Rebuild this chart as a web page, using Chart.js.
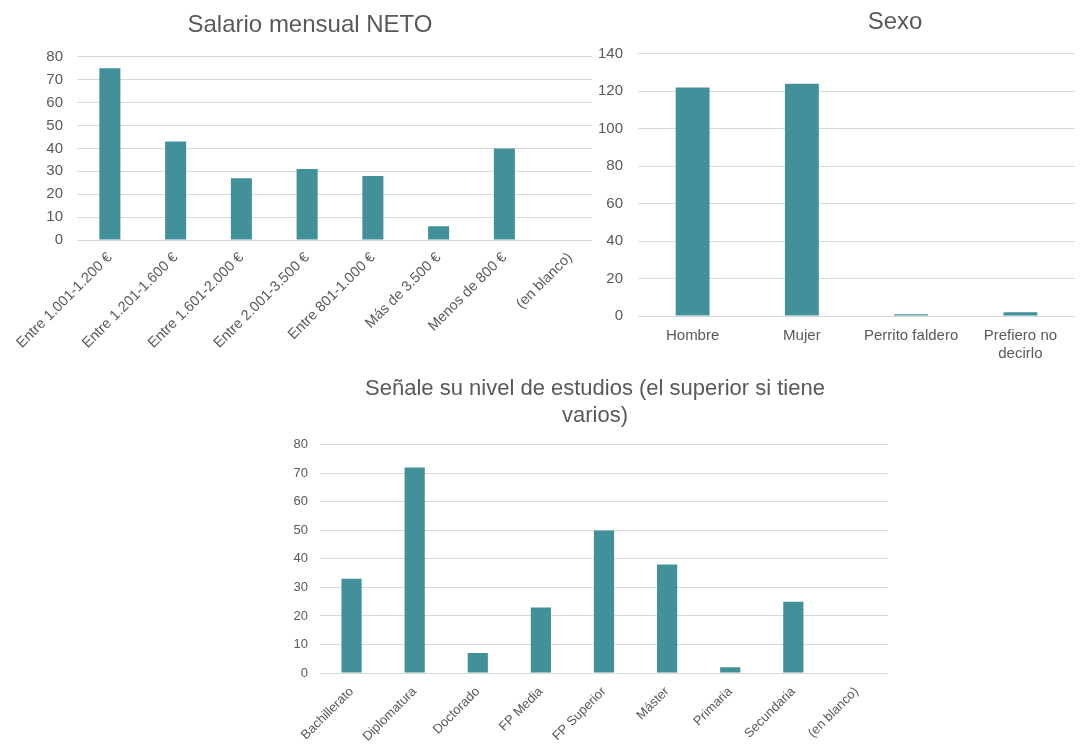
<!DOCTYPE html>
<html>
<head>
<meta charset="utf-8">
<script src="https://cdn.jsdelivr.net/npm/chart.js@4/dist/chart.umd.min.js"></script>
<style>
  html, body { margin:0; padding:0; background:#ffffff; width:1080px; height:744px; overflow:hidden; position:relative; }
  canvas { position:absolute; }
</style>
</head>
<body>
<canvas id="c1" width="620" height="370" style="left:0px;top:0px;"></canvas>
<canvas id="c2" width="606" height="370" style="left:592px;top:0px;"></canvas>
<canvas id="c3" width="650" height="374" style="left:270px;top:370px;"></canvas>
<script>
// ---- Data ----
const salarioTitle = "Salario mensual NETO";
const salarioCategories = ["Entre 1.001-1.200 €", "Entre 1.201-1.600 €", "Entre 1.601-2.000 €", "Entre 2.001-3.500 €", "Entre 801-1.000 €", "Más de 3.500 €", "Menos de 800 €", "(en blanco)"];
const salarioValues = [75, 43, 27, 31, 28, 6, 40, 0];
const salarioTicks = { min: 0, max: 80, step: 10 };

const sexoTitle = "Sexo";
const sexoCategories = ["Hombre", "Mujer", "Perrito faldero", ["Prefiero no", "decirlo"]];
const sexoValues = [122, 124, 1, 2];
const sexoTicks = { min: 0, max: 140, step: 20 };

const estudiosTitle = ["Señale su nivel de estudios (el superior si tiene", "varios)"];
const estudiosCategories = ["Bachillerato", "Diplomatura", "Doctorado", "FP Media", "FP Superior", "Máster", "Primaria", "Secundaria", "(en blanco)"];
const estudiosValues = [33, 72, 7, 23, 50, 38, 2, 25, 0];
const estudiosTicks = { min: 0, max: 80, step: 10 };

// ---- Style ----
const FONT = "'Liberation Sans', Arial, Helvetica, sans-serif";
const TEXT = "#595959";
const GRID = "#d9d9d9";
const BAR = "#42909a";

const whiteBg = {
  id: 'whiteBg',
  beforeDraw(chart) {
    const ctx = chart.ctx;
    ctx.save();
    ctx.fillStyle = '#ffffff';
    ctx.fillRect(0, 0, chart.width, chart.height);
    ctx.restore();
  }
};

function makeChart(id, o) {
  return new Chart(document.getElementById(id), {
    type: 'bar',
    plugins: [whiteBg],
    data: {
      labels: o.labels,
      datasets: [{ data: o.values, backgroundColor: BAR, borderWidth: 0, xAxisID: 'x', yAxisID: 'y',
                   categoryPercentage: 1, barPercentage: o.barPct }]
    },
    options: {
      responsive: false,
      animation: false,
      layout: { padding: 0 },
      plugins: {
        legend: { display: false },
        tooltip: { enabled: false },
        title: { display: true, text: o.title, color: TEXT,
                 font: { family: FONT, size: o.titleSize, weight: 'normal', lineHeight: 1.2 },
                 padding: { top: o.titleTop, bottom: o.titleBottom } }
      },
      scales: {
        x: {
          grid: { display: false, drawTicks: false },
          border: { display: false },
          ticks: { color: TEXT, font: { family: FONT, size: o.xFont, lineHeight: 1.2 }, autoSkip: false,
                   minRotation: o.rot, maxRotation: o.rot, padding: o.xPad },
          afterFit: s => { s.height = o.xHeight; }
        },
        y: {
          position: 'left',
          min: o.ticks.min, max: o.ticks.max,
          grid: { color: GRID, lineWidth: 1, drawTicks: false },
          border: { display: false },
          ticks: { stepSize: o.ticks.step, color: TEXT, font: { family: FONT, size: o.yFont }, padding: o.yPad },
          afterFit: s => { s.width = o.yWidth; }
        },
        yr: {
          type: 'linear',
          position: 'right',
          display: true,
          grid: { display: false, drawTicks: false },
          border: { display: false },
          ticks: { display: false },
          afterFit: s => { s.width = o.rightWidth; }
        }
      }
    }
  });
}

makeChart('c1', {
  labels: salarioCategories, values: salarioValues, ticks: salarioTicks, title: salarioTitle,
  titleSize: 24, titleTop: 11, titleBottom: 17,
  rightWidth: 17, yWidth: 77, yPad: 14, yFont: 15,
  xHeight: 130, xFont: 14.5, rot: 45, xPad: 9, barPct: 0.32
});

makeChart('c2', {
  labels: sexoCategories, values: sexoValues, ticks: sexoTicks, title: sexoTitle,
  titleSize: 24, titleTop: 8, titleBottom: 17,
  rightWidth: 123, yWidth: 46, yPad: 15, yFont: 15,
  xHeight: 54, xFont: 15, rot: 0, xPad: 11, barPct: 0.31
});

makeChart('c3', {
  labels: estudiosCategories, values: estudiosValues, ticks: estudiosTicks, title: estudiosTitle,
  titleSize: 22, titleTop: 6, titleBottom: 16,
  rightWidth: 32, yWidth: 50, yPad: 12, yFont: 13,
  xHeight: 71, xFont: 13, rot: 45, xPad: 11, barPct: 0.32
});
</script>
</body>
</html>
